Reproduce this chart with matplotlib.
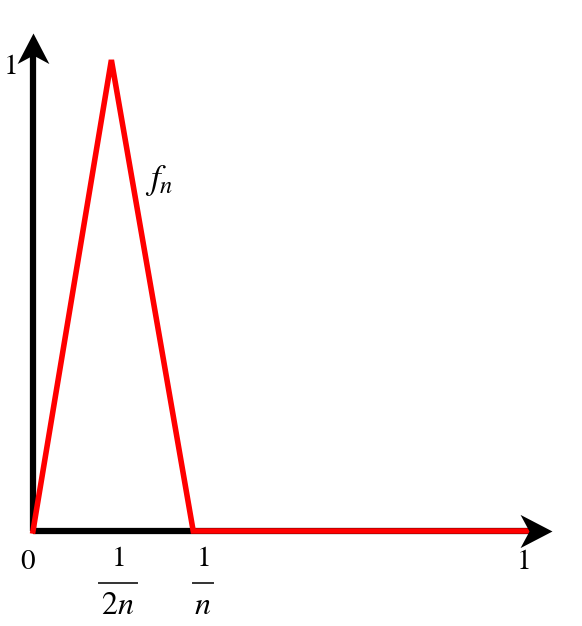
import matplotlib
matplotlib.use('Agg')
import matplotlib.pyplot as plt
from matplotlib.path import Path

plt.rcParams['mathtext.fontset'] = 'stix'
plt.rcParams['font.family'] = ['STIXGeneral', 'DejaVu Serif']

# f_n : tent from 0 up to 1 at 1/(2n), back to 0 at 1/n, then 0 up to 1
xs = [0.0, 0.16, 0.327, 1.015]
ys = [0.0, 1.0, 0.0, 0.0]

# tick labels under the x axis: (position, numerator, denominator)
frac_pos = [0.1735, 0.347]
frac_num = [r'$1$', r'$1$']
frac_den = [r'$2n$', r'$n$']
frac_halfw = [0.038, 0.021]

fig = plt.figure(figsize=(5.82, 6.26), dpi=100)
ax = fig.add_axes([0, 0, 1, 1])
ax.set_xlim(-0.0673, 1.1204)
ax.set_ylim(-0.2017, 1.1274)
ax.axis('off')

x_end, y_end = 1.059, 1.057

# axes lines
ax.plot([0, x_end - 0.03], [0, 0], color='black', lw=4.5, solid_capstyle='butt', zorder=2)
ax.plot([0, 0], [0, y_end - 0.03], color='black', lw=4.5, solid_capstyle='butt', zorder=2)

# the function
ax.plot(xs, ys, color='#ff0000', lw=4.0, solid_joinstyle='miter', zorder=3)

# arrow heads
head_r = Path([(0, 0), (-1, 0.52), (-0.72, 0), (-1, -0.52), (0, 0)],
              [Path.MOVETO, Path.LINETO, Path.LINETO, Path.LINETO, Path.CLOSEPOLY])
head_u = Path([(0, 0), (-0.52, -1), (0, -0.72), (0.52, -1), (0, 0)],
              [Path.MOVETO, Path.LINETO, Path.LINETO, Path.LINETO, Path.CLOSEPOLY])
ax.plot([x_end], [0], marker=head_r, ms=46, color='black', mew=0, zorder=4)
ax.plot([0], [y_end], marker=head_u, ms=44, color='black', mew=0, zorder=4)

# labels
ax.text(-0.01, -0.066, r'$0$', fontsize=21, ha='center', va='center')
ax.text(1.0, -0.066, r'$1$', fontsize=21, ha='center', va='center')
ax.text(-0.047, 0.985, r'$1$', fontsize=21, ha='center', va='center')

for p, num, den, hw in zip(frac_pos, frac_num, frac_den, frac_halfw):
    ax.text(p, -0.060, num, fontsize=21, ha='center', va='center')
    ax.plot([p - hw, p + hw], [-0.1104, -0.1104], color='#333333', lw=1.4)
    ax.text(p, -0.160, den, fontsize=23, ha='center', va='center')

ax.text(0.257, 0.745, r'$f_n$', fontsize=25, ha='center', va='center')

fig.savefig('out.png', dpi=100)
